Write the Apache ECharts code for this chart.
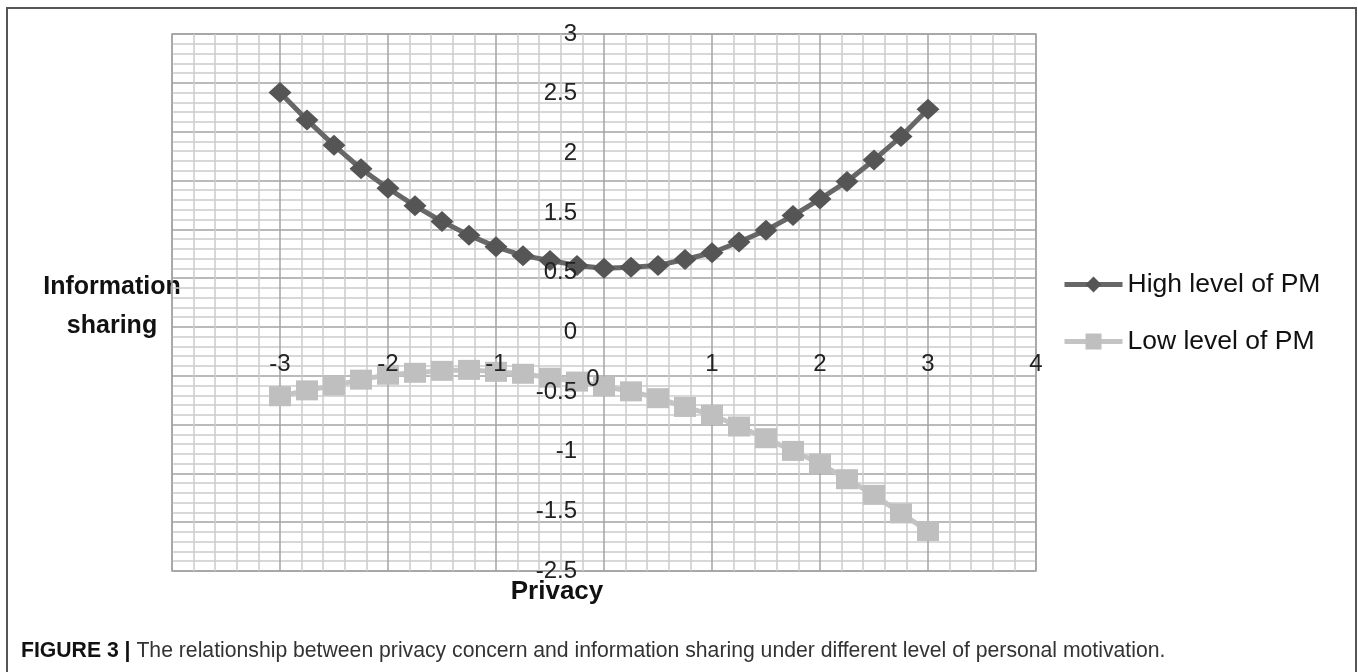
<!DOCTYPE html>
<html>
<head>
<meta charset="utf-8">
<title>Privacy vs information sharing</title>
<script src="https://cdn.jsdelivr.net/npm/echarts@6/dist/echarts.min.js"></script>
<style>
  html, body { margin: 0; padding: 0; background: #fff; }
  #chart { width: 1358px; height: 672px; }
</style>
</head>
<body>
<div id="chart"></div>
<script>
// privacy concern (x)
const privacy = [-3, -2.75, -2.5, -2.25, -2, -1.75, -1.5, -1.25, -1, -0.75, -0.5, -0.25,
  0, 0.25, 0.5, 0.75, 1, 1.25, 1.5, 1.75, 2, 2.25, 2.5, 2.75, 3]
// information sharing
const highPM = [2.40, 2.12, 1.86, 1.62, 1.42, 1.24, 1.08, 0.94, 0.82, 0.73, 0.68, 0.63,
  0.60, 0.61, 0.63, 0.69, 0.76, 0.87, 0.99, 1.14, 1.31, 1.49, 1.71, 1.95, 2.23]
const lowPM = [-0.71, -0.65, -0.60, -0.54, -0.49, -0.47, -0.45, -0.44, -0.46, -0.48, -0.52, -0.56,
  -0.61, -0.66, -0.73, -0.82, -0.90, -1.02, -1.14, -1.27, -1.40, -1.56, -1.72, -1.91, -2.09]
// y tick labels as printed (bottom to top)
const yTickLabels = ['-2.5', '-1.5', '-1', '-0.5', '0', '0.5', '1.5', '2', '2.5', '3']
const seriesNames = ['High level of PM', 'Low level of PM']

const font = "'Liberation Sans', Arial, sans-serif"
const pairs = (ys) => privacy.map((x, i) => [x, ys[i]])
const gridMajor = { show: true, lineStyle: { color: '#a3a3a3', width: 1.5 } }
const gridMinor = { show: true, lineStyle: { color: '#cccccc', width: 1.5 } }

const chart = echarts.init(document.getElementById('chart'), null, { renderer: 'canvas' })

chart.setOption({
  animation: false,
  backgroundColor: '#fff',
  textStyle: { fontFamily: font },
  title: {
    left: 16,
    top: 636,
    text: '{b|FIGURE 3 |} The relationship between privacy concern and information sharing under different level of personal motivation.',
    textStyle: {
      fontFamily: font,
      fontSize: 21.2,
      fontWeight: 'normal',
      color: '#333',
      rich: {
        b: { fontFamily: font, fontSize: 21.2, fontWeight: 'bold', color: '#111' }
      }
    }
  },
  legend: {
    orient: 'vertical',
    left: 1057,
    top: 266,
    itemWidth: 58,
    itemHeight: 20,
    itemGap: 30,
    data: seriesNames,
    lineStyle: { width: 5 },
    textStyle: { fontFamily: font, fontSize: 26.5, color: '#111' }
  },
  grid: {
    left: 172,
    top: 34,
    width: 864,
    height: 537,
    outerBoundsMode: 'none',
    show: true,
    borderColor: '#a3a3a3',
    borderWidth: 1.5
  },
  xAxis: [{
    // grid lines
    type: 'value',
    min: -4,
    max: 4,
    interval: 1,
    z: 0,
    axisLine: { show: false, onZero: false },
    axisTick: { show: false },
    axisLabel: { show: false },
    minorTick: { show: false, splitNumber: 5 },
    splitLine: gridMajor,
    minorSplitLine: gridMinor
  }, {
    // tick labels, drawn over the series, crossing at y = 0
    type: 'value',
    min: -4,
    max: 4,
    interval: 1,
    position: 'bottom',
    offset: -244,
    zlevel: 1,
    z: 10,
    axisLine: { show: false, onZero: false },
    axisTick: { show: false },
    splitLine: { show: false },
    axisLabel: {
      margin: 25,
      fontSize: 24,
      color: '#222',
      fontFamily: font,
      showMinLabel: false,
      formatter: (v) => (v === 0 ? '{z|0}' : String(v)),
      rich: { z: { fontSize: 24, color: '#222', fontFamily: font, padding: [15, 22, 0, 0] } }
    }
  }],
  yAxis: [{
    type: 'value',
    min: -2.5,
    max: 3,
    interval: 0.5,
    z: 0,
    axisLine: { show: false, onZero: false },
    axisTick: { show: false },
    axisLabel: { show: false },
    minorTick: { show: false, splitNumber: 5 },
    splitLine: gridMajor,
    minorSplitLine: gridMinor
  }, {
    // carries the tick labels where the picture prints them
    type: 'category',
    position: 'left',
    offset: -432,
    zlevel: 1,
    z: 10,
    boundaryGap: false,
    data: yTickLabels,
    axisLine: { show: false, onZero: false },
    axisTick: { show: false },
    splitLine: { show: false },
    axisLabel: { interval: 0, margin: 27, fontSize: 24, color: '#222', fontFamily: font }
  }],
  graphic: [{
    type: 'rect',
    silent: true,
    shape: { x: 7, y: 8, width: 1349, height: 700 },
    style: { fill: 'none', stroke: '#555', lineWidth: 2 }
  }, {
    type: 'text',
    x: 112,
    y: 307,
    style: {
      text: 'Information\nsharing',
      font: "bold 25px 'Liberation Sans', Arial, sans-serif",
      fill: '#111',
      align: 'center',
      verticalAlign: 'middle',
      lineHeight: 39
    }
  }, {
    type: 'text',
    x: 557,
    y: 592,
    style: {
      text: 'Privacy',
      font: "bold 26px 'Liberation Sans', Arial, sans-serif",
      fill: '#111',
      align: 'center',
      verticalAlign: 'middle'
    }
  }],
  series: [{
    name: seriesNames[0],
    type: 'line',
    xAxisIndex: 0,
    yAxisIndex: 0,
    z: 1,
    data: pairs(highPM),
    symbol: 'diamond',
    symbolSize: [23, 21],
    lineStyle: { color: '#676767', width: 5 },
    itemStyle: { color: '#555555' }
  }, {
    name: seriesNames[1],
    type: 'line',
    xAxisIndex: 0,
    yAxisIndex: 0,
    z: 1,
    data: pairs(lowPM),
    symbol: 'rect',
    symbolSize: [22, 20],
    lineStyle: { color: '#c4c4c4', width: 5 },
    itemStyle: { color: '#bfbfbf' }
  }]
})
</script>
</body>
</html>
